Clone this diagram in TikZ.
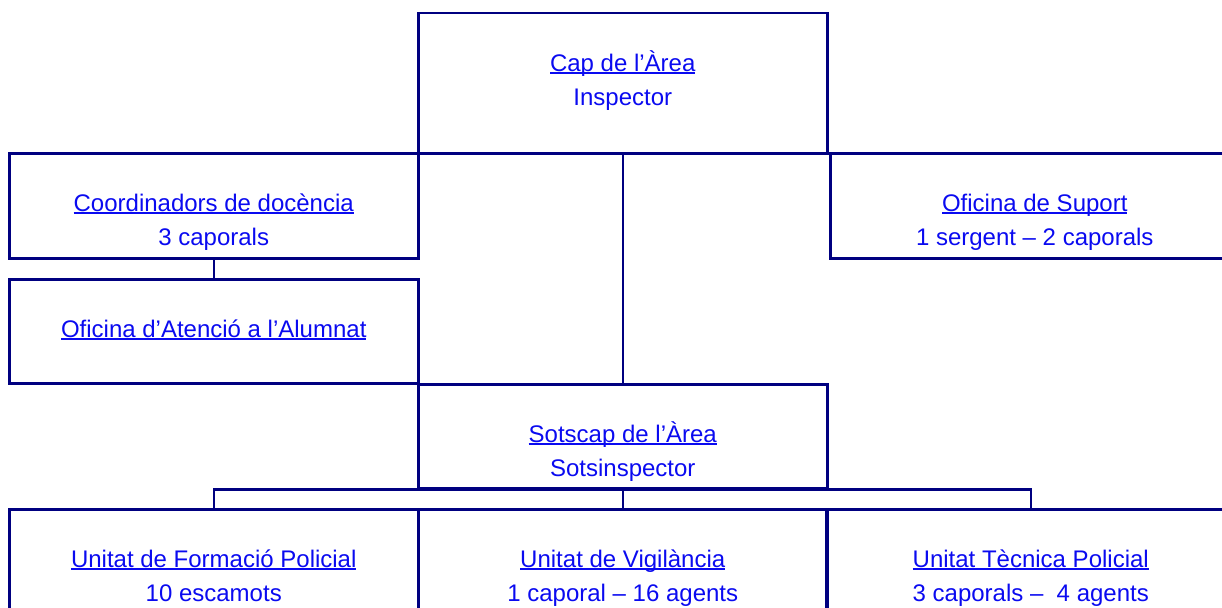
\documentclass[tikz,border=0pt]{standalone}
\usepackage{fontspec}
\setmainfont{Liberation Sans}
\usetikzlibrary{calc}
\definecolor{navy}{RGB}{0,0,128}
\definecolor{textblue}{RGB}{10,10,240}
\newsavebox{\ulinkbox}
\newcommand{\ulink}[1]{\sbox{\ulinkbox}{#1}\rlap{\rule[-2.8pt]{\wd\ulinkbox}{1.7pt}}\usebox{\ulinkbox}}
\tikzstyle{orgbox}=[draw=navy,line width=2.5pt,minimum width=409pt,inner sep=0pt,anchor=north west,align=center,text=textblue,font=\fontsize{24}{34}\selectfont,text height=92pt]
\tikzstyle{link}=[draw=navy,line width=2.5pt]

\begin{document}
\begin{tikzpicture}[x=1pt,y=-1pt]

    \useasboundingbox (0,0) rectangle (1222,607);
    \clip (0,0) rectangle (1222,607);

    % head of the area and the offices next to it
    \node[orgbox,text depth=48pt] (cap) at (417,12) {\ulink{Cap de l’Àrea}\\Inspector};
    \node[orgbox,text depth=13pt] (coord) at (8,152) {\ulink{Coordinadors de docència}\\3 caporals};
    \node[orgbox,text depth=13pt] (suport) at (829,152) {\ulink{Oficina de Suport}\\1 sergent -- 2 caporals};
    \node[orgbox,text height=58pt,text depth=46pt] (atencio) at (8,278) {\ulink{Oficina d’Atenció a l’Alumnat}};
    \node[orgbox,text depth=12pt] (sotscap) at (417,383) {\ulink{Sotscap de l’Àrea}\\Sotsinspector};

    % units
    \foreach \pos/\name/\unit/\staff in {{(8,508)/form/Unitat de Formació Policial/10 escamots},
        {(417,508)/vigil/Unitat de Vigilància/1 caporal -- 16 agents},
        {(825,508)/tecnica/Unitat Tècnica Policial/3 caporals --\ \ 4 agents}}
        \node[orgbox,text depth=12pt] (\name) at \pos {\ulink{\unit}\\\staff};

    % connect the boxes
    \path[link] (cap.south) -- (sotscap.north);
    \path[link] (coord.south) -- (atencio.north);
    \path[link] (form.north) |- (sotscap.south) -| (tecnica.north);
    \path[link] (sotscap.south) -- (vigil.north);

\end{tikzpicture}
\end{document}
